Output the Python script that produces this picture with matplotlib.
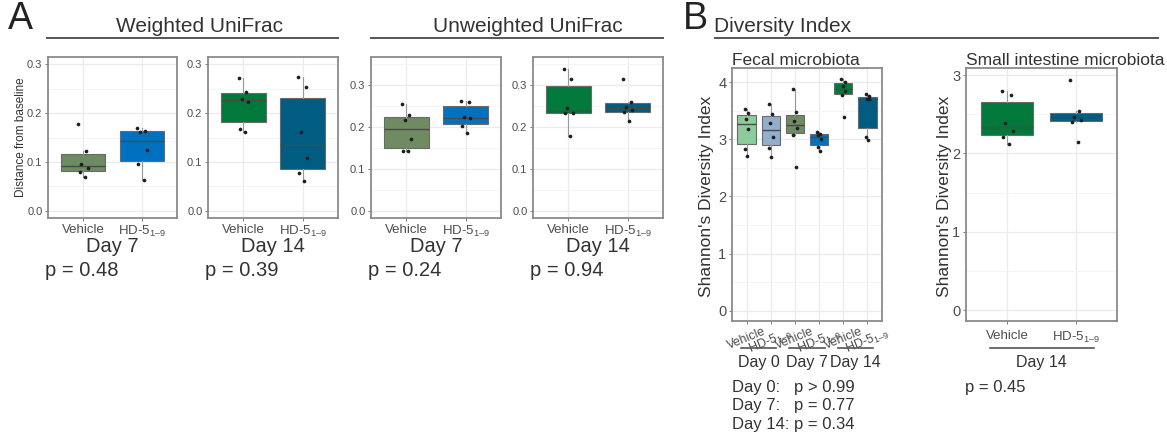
"""
Box plots of UniFrac distance and Shannon diversity, Vehicle vs HD-5(1-9)
"""
import matplotlib
matplotlib.use('Agg')
import matplotlib.pyplot as plt
from matplotlib.transforms import blended_transform_factory
import numpy as np

plt.rcParams['font.family'] = ['Liberation Sans', 'DejaVu Sans']
plt.rcParams['mathtext.fontset'] = 'custom'
plt.rcParams['mathtext.rm'] = 'Liberation Sans'
plt.rcParams['mathtext.it'] = 'Liberation Sans'

# ---- data ----
groups = ['Vehicle', r'HD-5$_{\mathregular{1–9}}$']

wu_d7_vehicle = [0.070, 0.079, 0.087, 0.095, 0.123, 0.178]
wu_d7_hd5 = [0.063, 0.095, 0.125, 0.161, 0.163, 0.169]
wu_d14_vehicle = [0.161, 0.167, 0.223, 0.229, 0.244, 0.271]
wu_d14_hd5 = [0.060, 0.078, 0.108, 0.161, 0.253, 0.274]

uu_d7_vehicle = [0.142, 0.1435, 0.172, 0.2165, 0.228, 0.256]
uu_d7_hd5 = [0.185, 0.202, 0.2205, 0.2245, 0.260, 0.262]
uu_d14_vehicle = [0.178, 0.2325, 0.233, 0.2445, 0.316, 0.338]
uu_d14_hd5 = [0.215, 0.236, 0.2405, 0.2485, 0.261, 0.316]

fecal_d0_vehicle = [2.70, 2.82, 3.18, 3.36, 3.45, 3.53]
fecal_d0_hd5 = [2.68, 2.85, 3.04, 3.29, 3.44, 3.61]
fecal_d7_vehicle = [2.51, 3.07, 3.19, 3.31, 3.47, 3.87]
fecal_d7_hd5 = [2.80, 2.86, 3.01, 3.08, 3.09, 3.12]
fecal_d14_vehicle = [3.38, 3.77, 3.84, 3.93, 4.005, 4.05]
fecal_d14_hd5 = [2.99, 3.03, 3.70, 3.71, 3.755, 3.79]

si_d14_vehicle = [2.12, 2.21, 2.29, 2.385, 2.745, 2.80]
si_d14_hd5 = [2.145, 2.40, 2.43, 2.46, 2.535, 2.94]

p_weighted = ['p = 0.48', 'p = 0.39']
p_unweighted = ['p = 0.24', 'p = 0.94']
p_fecal = ['Day 0:   p > 0.99', 'Day 7:   p = 0.77', 'Day 14: p = 0.34']
p_small = 'p = 0.45'

# colours
c_veh7 = '#6E8B62'
c_hd7 = '#0071C1'
c_veh14 = '#00793A'
c_hd14 = '#005C80'
c_veh0 = '#8CCB9B'
c_hd0 = '#93AECB'

# fixed horizontal jitter pattern for the points
jitter = [0.03, -0.06, 0.08, -0.03, 0.05, -0.08]

W, H = 1167, 440
fig = plt.figure(figsize=(W / 100, H / 100), dpi=100)
TXT = '#333333'


def px(x, y):
    return x / W, 1 - y / H


def add_axes_px(left, top, right, bottom):
    return fig.add_axes([left / W, 1 - bottom / H, (right - left) / W, (bottom - top) / H])


def style(ax, ylim, major, minor, labels, ytick_size):
    ax.set_ylim(*ylim)
    ax.set_yticks(major)
    ax.set_yticks(minor, minor=True)
    ax.set_yticklabels(labels)
    ax.grid(True, which='major', color='#EBEBEB', linewidth=0.9)
    ax.grid(True, which='minor', axis='y', color='#F3F3F3', linewidth=0.6)
    ax.set_axisbelow(True)
    for s in ax.spines.values():
        s.set_color('#8A8A8A')
        s.set_linewidth(1.3)
    ax.tick_params(which='minor', length=0)
    ax.tick_params(which='major', length=2.5, width=0.6, color='#666666',
                   labelcolor='#4D4D4D', pad=1.5)
    ax.tick_params(axis='y', labelsize=ytick_size)


def boxes(ax, series, colors):
    pos = np.arange(1, len(series) + 1)
    bp = ax.boxplot(series, positions=pos, widths=0.75, patch_artist=True,
                    showfliers=False, showcaps=False, whis=1.5,
                    boxprops=dict(linewidth=0.8, edgecolor='#6A6A6A'),
                    whiskerprops=dict(linewidth=0.8, color='#9A9A9A'),
                    medianprops=dict(linewidth=1.0, color='#4A4A4A'))
    for patch, c in zip(bp['boxes'], colors):
        patch.set_facecolor(c)
    for p, vals in zip(pos, series):
        ax.scatter(p + np.array(jitter[:len(vals)]), vals, s=7, color='#1E1E1E',
                   zorder=4, linewidths=0)
    ax.set_xlim(0.4, len(series) + 0.6)
    ax.set_xticks(pos)


# ---- panel A ----
a_axes = [(48, 177), (208, 338), (371, 501), (533, 663)]
a_data = [[wu_d7_vehicle, wu_d7_hd5], [wu_d14_vehicle, wu_d14_hd5],
          [uu_d7_vehicle, uu_d7_hd5], [uu_d14_vehicle, uu_d14_hd5]]
a_cols = [[c_veh7, c_hd7], [c_veh14, c_hd14], [c_veh7, c_hd7], [c_veh14, c_hd14]]
a_days = ['Day 7', 'Day 14', 'Day 7', 'Day 14']
a_p = p_weighted + p_unweighted

for i, ((l, r), dat, cols) in enumerate(zip(a_axes, a_data, a_cols)):
    ax = add_axes_px(l, 57, r, 218)
    boxes(ax, dat, cols)
    if i < 2:
        style(ax, (-0.015, 0.315), [0, 0.1, 0.2, 0.3], [0.05, 0.15, 0.25],
              ['0.0', '0.1', '0.2', '0.3'], 8)
    else:
        style(ax, (-0.0175, 0.3675), [0, 0.1, 0.2, 0.3], [0.05, 0.15, 0.25, 0.35],
              ['0.0', '0.1', '0.2', '0.3'], 8)
    ax.set_xticklabels(groups, fontsize=9.5)
    fig.text(*px((l + r) / 2, 246), a_days[i], fontsize=14.5, color=TXT,
             ha='center', va='center')
    fig.text(*px(l - 3, 270), a_p[i], fontsize=14.5, color=TXT, ha='left', va='center')

fig.text(*px(21, 137), 'Distance from baseline', rotation=90, fontsize=8.5,
         color=TXT, ha='center', va='center')

fig.text(*px(8, 19), 'A', fontsize=27, color='#222222', ha='left', va='center')
fig.text(*px(200, 27), 'Weighted UniFrac', fontsize=15, color=TXT, ha='center', va='center')
fig.text(*px(528, 27), 'Unweighted UniFrac', fontsize=15, color=TXT, ha='center', va='center')
fig.add_artist(plt.Line2D([47 / W, 338 / W], [1 - 38 / H] * 2, color='#555555', lw=1.4))
fig.add_artist(plt.Line2D([371 / W, 663 / W], [1 - 38 / H] * 2, color='#555555', lw=1.4))

# ---- panel B ----
fig.text(*px(683, 19), 'B', fontsize=27, color='#222222', ha='left', va='center')
fig.text(*px(714, 27), 'Diversity Index', fontsize=15, color=TXT, ha='left', va='center')
fig.add_artist(plt.Line2D([715 / W, 1158 / W], [1 - 38 / H] * 2, color='#555555', lw=1.4))

# fecal microbiota
ax = add_axes_px(732, 68, 882, 321)
fecal = [fecal_d0_vehicle, fecal_d0_hd5, fecal_d7_vehicle, fecal_d7_hd5,
         fecal_d14_vehicle, fecal_d14_hd5]
boxes(ax, fecal, [c_veh0, c_hd0, c_veh7, c_hd7, c_veh14, c_hd14])
style(ax, (-0.18, 4.245), [0, 1, 2, 3, 4], [0.5, 1.5, 2.5, 3.5],
      ['0', '1', '2', '3', '4'], 10.5)
ax.set_xticklabels(groups * 3, fontsize=9, rotation=22, ha='center', va='top')
ax.tick_params(axis='x', pad=1)
ax.set_title('Fecal microbiota', fontsize=12.5, color=TXT, loc='left', pad=-1, x=0.0)
tr = blended_transform_factory(ax.transData, fig.transFigure)
for k, day in enumerate(['Day 0', 'Day 7', 'Day 14']):
    c = 1.5 + 2 * k
    ax.plot([c - 0.73, c + 0.73], [1 - 348 / H] * 2, transform=tr, color='#555555',
            lw=1.2, clip_on=False)
    ax.text(c, 1 - 362 / H, day, transform=tr, fontsize=11.5, color=TXT,
            ha='center', va='center')
for k, s in enumerate(p_fecal):
    fig.text(*px(732, 387 + 18.5 * k), s, fontsize=12, color=TXT, ha='left', va='center')
fig.text(*px(707, 196), "Shannon's Diversity Index", rotation=90, fontsize=12.5,
         color=TXT, ha='center', va='center')

# small intestine microbiota
ax = add_axes_px(966, 68, 1117, 321)
boxes(ax, [si_d14_vehicle, si_d14_hd5], [c_veh14, c_hd14])
style(ax, (-0.14, 3.09), [0, 1, 2, 3], [0.5, 1.5, 2.5],
      ['0', '1', '2', '3'], 10.5)
ax.set_xticklabels(groups, fontsize=9.5)
ax.tick_params(axis='x', pad=4)
ax.set_title('Small intestine microbiota', fontsize=12.5, color=TXT, loc='left',
             pad=-1, x=0.0)
tr = blended_transform_factory(ax.transData, fig.transFigure)
ax.plot([0.75, 2.27], [1 - 348 / H] * 2, transform=tr, color='#555555', lw=1.2,
        clip_on=False)
ax.text(1.5, 1 - 362 / H, 'Day 14', transform=tr, fontsize=11.5, color=TXT,
        ha='center', va='center')
fig.text(*px(965, 387), p_small, fontsize=12, color=TXT, ha='left', va='center')
fig.text(*px(944, 196), "Shannon's Diversity Index", rotation=90, fontsize=12.5,
         color=TXT, ha='center', va='center')

fig.savefig('out.png', dpi=100)
